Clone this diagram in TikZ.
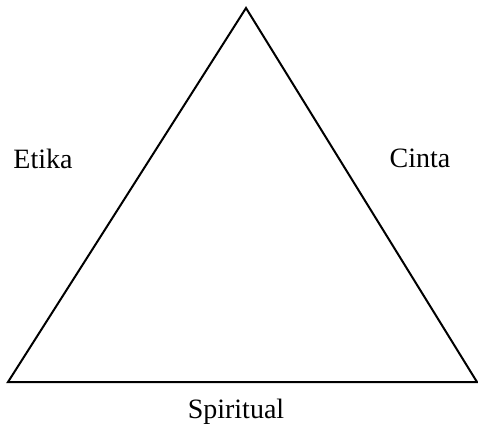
\documentclass[tikz,border=0pt]{standalone}
\usepackage{fontspec}
\setmainfont{Liberation Serif}
\begin{document}
\begin{tikzpicture}[x=1pt,y=-1pt,
  lbl/.style={anchor=base,inner sep=0pt,font=\fontsize{28}{30}\selectfont},
  edge/.style={draw=black,line width=2pt,line join=miter}]
\useasboundingbox (0,0) rectangle (478,431);
\coordinate (top) at (246,8);
\coordinate (bl) at (8,382);
\coordinate (br) at (477,382);
\draw[edge] (top) -- (br) -- (bl) -- cycle;
\node[lbl] (etika) at (43,168) {Etika};
\node[lbl] (cinta) at (420,167) {Cinta};
\node[lbl] (spiritual) at (236,418) {Spiritual};
\end{tikzpicture}
\end{document}
